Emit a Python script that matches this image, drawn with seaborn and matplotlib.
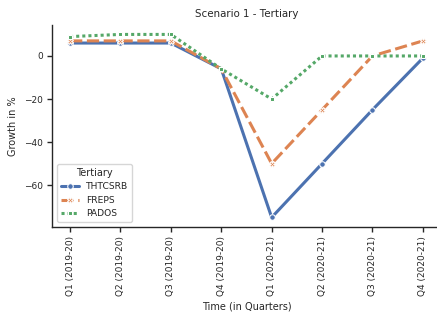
import pandas as pd
import seaborn as sns
from matplotlib import pyplot as plt

quarters = ["Q1 (2019-20)", "Q2 (2019-20)", "Q3 (2019-20)", "Q4 (2019-20)",
            "Q1 (2020-21)", "Q2 (2020-21)", "Q3 (2020-21)", "Q4 (2020-21)"]
thtcsrb = [6, 6, 6, -6, -75, -50, -25, -1]
freps = [7, 7, 7, -6, -50, -25, 0, 7]
pados = [9, 10, 10, -6, -20, 0, 0, 0]

sns.set_theme(style="ticks")
plt.rcParams["axes.linewidth"] = 1.0
plt.rcParams["xtick.major.width"] = 1.0
plt.rcParams["ytick.major.width"] = 1.0
plt.rcParams["xtick.major.size"] = 3.5
plt.rcParams["ytick.major.size"] = 3.5

df = pd.DataFrame({"Time": quarters * 3,
                   "Growth": thtcsrb + freps + pados,
                   "Tertiary": ["THTCSRB"] * 8 + ["FREPS"] * 8 + ["PADOS"] * 8})

fig, ax = plt.subplots(figsize=(4.37, 3.16), dpi=100)
sns.lineplot(data=df, x="Time", y="Growth", hue="Tertiary", style="Tertiary",
             markers=True, linewidth=2.2, markersize=4, sort=False, ax=ax)
sns.despine()
ax.set_title("Scenario 1 - Tertiary", fontsize=7.4)
ax.set_xlabel("Time (in Quarters)", fontsize=7)
ax.set_ylabel("Growth in %", fontsize=7)
ax.tick_params(axis="both", labelsize=6.5)
plt.xticks(rotation=90)
ax.legend(title="Tertiary", fontsize=6.6, title_fontsize=7, loc="lower left")
fig.subplots_adjust(left=0.12, right=1.008, top=0.92, bottom=0.283)
fig.savefig("out.png", dpi=100)
